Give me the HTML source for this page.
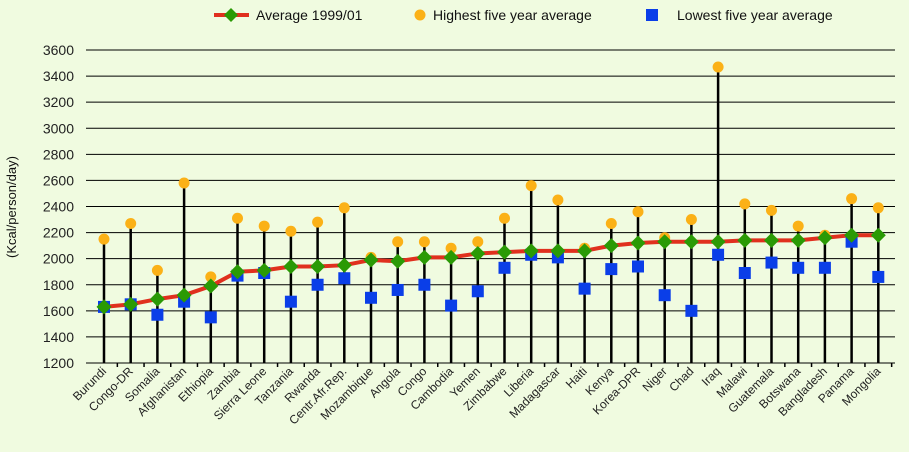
<!DOCTYPE html>
<html><head><meta charset="utf-8"><style>
body{margin:0;background:#f0fbe0;}
svg{display:block;font-family:"Liberation Sans",sans-serif;}
</style></head><body>
<svg id="chart" width="909" height="452" viewBox="0 0 909 452">
<rect width="909" height="452" fill="#f0fbe0"/>
<g id="legend" font-size="14" fill="#111">
 <g>
  <line x1="214" y1="15" x2="249" y2="15" stroke="#e0301e" stroke-width="4"/>
  <path d="M231 8 L238 15 L231 22 L224 15Z" fill="#2a9a05"/>
  <text x="256" y="20">Average 1999/01</text></g>
 <g>
  <circle cx="420" cy="15" r="5.5" fill="#fbb117"/>
  <text x="433" y="20">Highest five year average</text></g>
 <g>
  <rect x="646" y="9" width="12" height="12" fill="#0a3ee8"/>
  <text x="677" y="20">Lowest five year average</text></g>
</g>
<text transform="translate(16,207) rotate(-90)" text-anchor="middle" font-size="13" fill="#111">(Kcal/person/day)</text>
<g id="grid"></g><g id="stems"></g><g id="marks"></g><g id="xlabels"></g>
</svg>
<script>
const categories=["Burundi","Congo-DR","Somalia","Afghanistan","Ethiopia","Zambia","Sierra Leone","Tanzania","Rwanda","Centr.Afr.Rep.","Mozambique","Angola","Congo","Cambodia","Yemen","Zimbabwe","Liberia","Madagascar","Haiti","Kenya","Korea-DPR","Niger","Chad","Iraq","Malawi","Guatemala","Botswana","Bangladesh","Panama","Mongolia"];
const average=[1630,1650,1690,1720,1790,1900,1910,1940,1940,1950,1990,1980,2010,2010,2040,2050,2060,2060,2060,2100,2120,2130,2130,2130,2140,2140,2140,2160,2180,2180];
const highest=[2150,2270,1910,2580,1860,2310,2250,2210,2280,2390,2010,2130,2130,2080,2130,2310,2560,2450,2080,2270,2360,2160,2300,3470,2420,2370,2250,2180,2460,2390];
const lowest=[1630,1650,1570,1670,1550,1870,1890,1670,1800,1850,1700,1760,1800,1640,1750,1930,2030,2010,1770,1920,1940,1720,1600,2030,1890,1970,1930,1930,2130,1860];
const yTicks=[1200,1400,1600,1800,2000,2200,2400,2600,2800,3000,3200,3400,3600];
const NS="http://www.w3.org/2000/svg";
const y=v=>363-(v-1200)/2400*313;
const x=i=>104+i*26.7;
function mk(t,a,p){const e=document.createElementNS(NS,t);for(const k in a)e.setAttribute(k,a[k]);p.appendChild(e);return e;}
const grid=document.getElementById('grid'),stems=document.getElementById('stems'),marks=document.getElementById('marks'),xl=document.getElementById('xlabels');
yTicks.forEach(v=>{
 const l=mk('line',{x1:86,x2:895,y1:y(v),y2:y(v),stroke:'#000','stroke-width':1},grid);
 
 
 const t=mk('text',{x:74,y:y(v)+5,'text-anchor':'end','font-size':'14',fill:'#222'},grid);
 t.textContent=v;
 
 
});
categories.forEach((c,i)=>{
 const tk=mk('line',{x1:x(i)+13.35,x2:x(i)+13.35,y1:363,y2:367,stroke:'#000','stroke-width':1.5},grid);
 
 
 const top=Math.max(highest[i],average[i],lowest[i]);
 const s=mk('line',{x1:x(i),x2:x(i),y1:363,y2:y(top),stroke:'#000','stroke-width':2.5},stems);
 
 
 const t=mk('text',{transform:`translate(${x(i)+3},${372}) rotate(-45)`,'text-anchor':'end','font-size':'12',fill:'#222'},xl);
 t.textContent=c;
 
 
});
const pts=average.map((v,i)=>x(i)+','+y(v)).join(' ');
const line=mk('polyline',{points:pts,fill:'none',stroke:'#e0301e','stroke-width':4,'stroke-linejoin':'round'},marks);


categories.forEach((c,i)=>{
 const cx=x(i);
 const sq=mk('rect',{x:cx-6,y:y(lowest[i])-6,width:12,height:12,fill:'#0a3ee8'},marks);
 
 
 const ci=mk('circle',{cx:cx,cy:y(highest[i]),r:5.5,fill:'#fbb117'},marks);
 
 
 const ay=y(average[i]);
 const d=mk('path',{d:`M${cx} ${ay-7.5}L${cx+7.5} ${ay}L${cx} ${ay+7.5}L${cx-7.5} ${ay}Z`,fill:'#2a9a05'},marks);
 
 
});
</script>
</body></html>
